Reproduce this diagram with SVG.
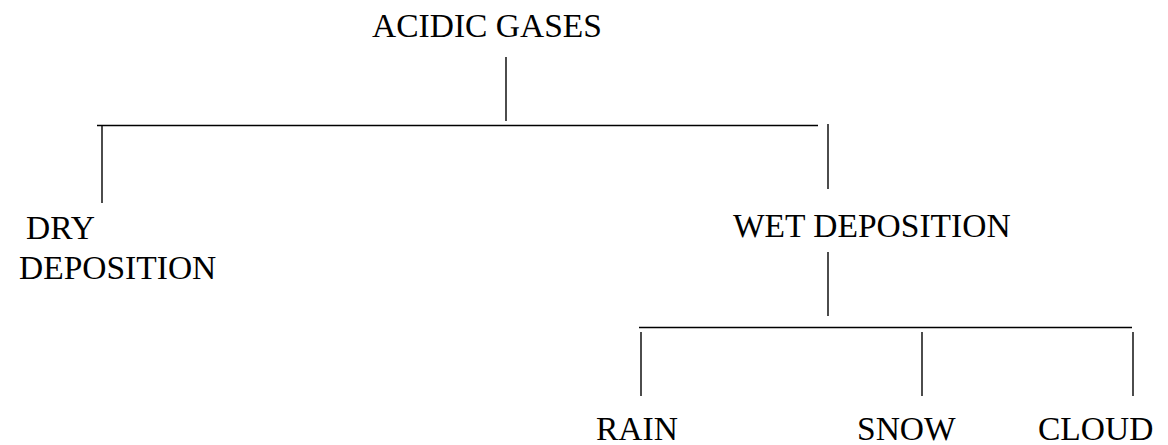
<svg xmlns="http://www.w3.org/2000/svg" width="1168" height="445" viewBox="0 0 1168 445">
<style>
text{font-family:"Liberation Serif","Times New Roman",serif;font-size:33.5px;fill:#000}
line{stroke:#000;stroke-width:1.4}
</style>
<rect width="1168" height="445" fill="#fff"/>
<g id="connectors">
<line x1="506" y1="57" x2="506" y2="121"/>
<line x1="97" y1="125.5" x2="818" y2="125.5"/>
<line x1="102" y1="125" x2="102" y2="203"/>
<line x1="828" y1="124" x2="828" y2="189"/>
<line x1="828" y1="252" x2="828" y2="316"/>
<line x1="639" y1="327.5" x2="1132" y2="327.5"/>
<line x1="641" y1="332" x2="641" y2="396"/>
<line x1="922" y1="332" x2="922" y2="396"/>
<line x1="1133" y1="332" x2="1133" y2="396"/>
</g>
<g id="acidic-gases"><text x="372" y="37">ACIDIC GASES</text></g>
<g id="dry-deposition"><text x="26" y="239">DRY</text><text x="19" y="279">DEPOSITION</text></g>
<g id="wet-deposition"><text x="733" y="237">WET DEPOSITION</text></g>
<g id="rain"><text x="596" y="440">RAIN</text></g>
<g id="snow"><text x="857" y="440">SNOW</text></g>
<g id="cloud"><text x="1038" y="440">CLOUD</text></g>
</svg>
